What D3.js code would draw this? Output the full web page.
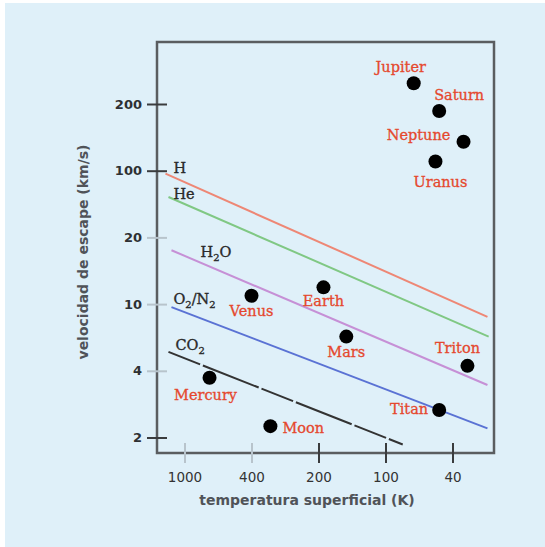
<!DOCTYPE html>
<html>
<head>
<meta charset="utf-8">
<script src="https://cdn.jsdelivr.net/npm/d3@7"></script>
<style>
  body { margin: 0; background: #fff; }
</style>
</head>
<body>
<div id="chart"></div>
<script>
// axis ticks (the original figure spaces its labels evenly)
var tempTicks = [1000, 400, 200, 100, 40];
var velTicks = [2, 4, 10, 20, 100, 200];

// planets and moons: surface temperature (K), escape velocity (km/s)
var bodyNames = ["Jupiter", "Saturn", "Neptune", "Uranus", "Venus", "Earth", "Mars", "Mercury", "Moon", "Triton", "Titan"];
var bodyTemp  = [68, 48, 34.4, 50.5, 400, 190, 150, 710, 329, 32.6, 48];
var bodyVel   = [248, 186, 135, 110, 10.9, 11.9, 6.4, 3.72, 2.25, 4.28, 2.66];

// gas retention lines: start and end points
var gasNames  = ["H", "He", "H2O", "O2/N2", "CO2"];
var gasT0 = [1297, 1245, 1195, 1195, 1245];
var gasV0 = [93, 53, 17.5, 9.6, 5.19];
var gasT1 = [24.8, 24.4, 24.8, 24.8, 79];
var gasV1 = [8.4, 6.4, 3.45, 2.2, 1.86];

var W = 545, H = 547;
var box = {l: 157, t: 42, r: 494, b: 453};

var svg = d3.select("#chart").append("svg")
    .attr("width", W).attr("height", H);

// light blue panel
svg.append("rect").attr("x", 5).attr("y", 3).attr("width", W - 5).attr("height", H - 3)
    .attr("fill", "#dff0f9");

// piecewise log scales so the ticks sit evenly spaced
var xStep = 67, x0 = 184.5;
var x = d3.scaleLog()
    .domain(tempTicks)
    .range(tempTicks.map(function(d, i) { return x0 + i * xStep; }));

var yStep = 66.7, y0 = 437.5;
var y = d3.scaleLog()
    .domain(velTicks)
    .range(velTicks.map(function(d, i) { return y0 - i * yStep; }));

// frame
svg.append("rect")
    .attr("x", box.l).attr("y", box.t)
    .attr("width", box.r - box.l).attr("height", box.b - box.t)
    .attr("fill", "none").attr("stroke", "#5a5d60").attr("stroke-width", 2.5);

// y axis
var yAxis = svg.append("g")
    .attr("transform", "translate(" + box.l + ",0)")
    .call(d3.axisLeft(y).tickValues(velTicks).tickFormat(d3.format("d")).tickSize(10).tickPadding(5));
yAxis.select(".domain").remove();
yAxis.selectAll(".tick line")
    .attr("x1", 10).attr("x2", -10)
    .attr("stroke", function(d) { return (d === 2 || d >= 100) ? "#3a3c3e" : "#b8c4cc"; })
    .attr("stroke-width", 2);
yAxis.selectAll(".tick text")
    .attr("font-family", "DejaVu Sans").attr("font-size", 13).attr("font-weight", "bold")
    .attr("fill", "#2e3033");

// x axis
var xAxis = svg.append("g")
    .attr("transform", "translate(0," + box.b + ")")
    .call(d3.axisBottom(x).tickValues(tempTicks).tickFormat(d3.format("d")).tickSize(10).tickPadding(9));
xAxis.select(".domain").remove();
xAxis.selectAll(".tick line")
    .attr("y1", -10).attr("y2", 10)
    .attr("stroke", function(d) { return d >= 400 ? "#b8c4cc" : "#3a3c3e"; })
    .attr("stroke-width", 2);
xAxis.selectAll(".tick text")
    .attr("font-family", "DejaVu Sans").attr("font-size", 13.5)
    .attr("fill", "#333");

// axis titles
svg.append("text")
    .attr("x", 307).attr("y", 505)
    .attr("text-anchor", "middle")
    .attr("font-family", "DejaVu Sans").attr("font-size", 14).attr("font-weight", "bold")
    .attr("fill", "#505358")
    .text("temperatura superficial (K)");

svg.append("text")
    .attr("transform", "translate(88,252) rotate(-90)")
    .attr("text-anchor", "middle")
    .attr("font-family", "DejaVu Sans").attr("font-size", 14).attr("font-weight", "bold")
    .attr("fill", "#505358")
    .text("velocidad de escape (km/s)");

// gas lines
var gasColor = ["#ee8775", "#80c884", "#c690d6", "#5a72d4", "#333333"];
var line = d3.line().x(function(d) { return x(d[0]); }).y(function(d) { return y(d[1]); });

gasNames.forEach(function(g, i) {
    svg.append("path")
        .attr("d", line([[gasT0[i], gasV0[i]], [gasT1[i], gasV1[i]]]))
        .attr("fill", "none")
        .attr("stroke", gasColor[i])
        .attr("stroke-width", 2)
        .attr("stroke-dasharray", g === "CO2" ? "34,3,60,3" : null);
});

// gas labels, offset from line start
var gasOff = [[8, -1], [5, 2], [29, 7], [2, -3], [7, -2]];
var gasLbl = [
    [["H", false]],
    [["He", false]],
    [["H", false], ["2", true], ["O", false]],
    [["O", false], ["2", true], ["/N", false], ["2", true]],
    [["CO", false], ["2", true]]
];
gasNames.forEach(function(g, i) {
    var t = svg.append("text")
        .attr("x", x(gasT0[i]) + gasOff[i][0])
        .attr("y", y(gasV0[i]) + gasOff[i][1])
        .attr("font-family", "DejaVu Serif").attr("font-size", 14.5)
        .attr("fill", "#2a2a2a")
        .attr("stroke", "#2a2a2a").attr("stroke-width", 0.35);
    gasLbl[i].forEach(function(p) {
        t.append("tspan")
            .attr("font-size", p[1] ? 10 : 14.5)
            .attr("dy", p[1] ? 4 : (t.selectAll("tspan").size() > 1 ? -4 : 0))
            .text(p[0]);
    });
});

// bodies
bodyNames.forEach(function(n, i) {
    svg.append("circle")
        .attr("cx", x(bodyTemp[i])).attr("cy", y(bodyVel[i]))
        .attr("r", 7).attr("fill", "#000");
});

var lblOff = {
    Jupiter: [-13, -11, "middle"], Saturn: [20, -11, "middle"], Neptune: [-45, -2, "middle"],
    Uranus: [5, 25, "middle"], Venus: [0, 20, "middle"], Earth: [0, 19, "middle"],
    Mars: [0, 20, "middle"], Mercury: [-4, 22, "middle"], Moon: [12, 7, "start"],
    Triton: [-10, -13, "middle"], Titan: [-11, 4, "end"]
};
bodyNames.forEach(function(n, i) {
    var o = lblOff[n];
    svg.append("text")
        .attr("x", x(bodyTemp[i]) + o[0]).attr("y", y(bodyVel[i]) + o[1])
        .attr("text-anchor", o[2])
        .attr("font-family", "DejaVu Serif").attr("font-size", 14.5)
        .attr("fill", "#e5482e")
        .attr("stroke", "#e5482e").attr("stroke-width", 0.3)
        .text(n);
});
</script>
</body>
</html>
